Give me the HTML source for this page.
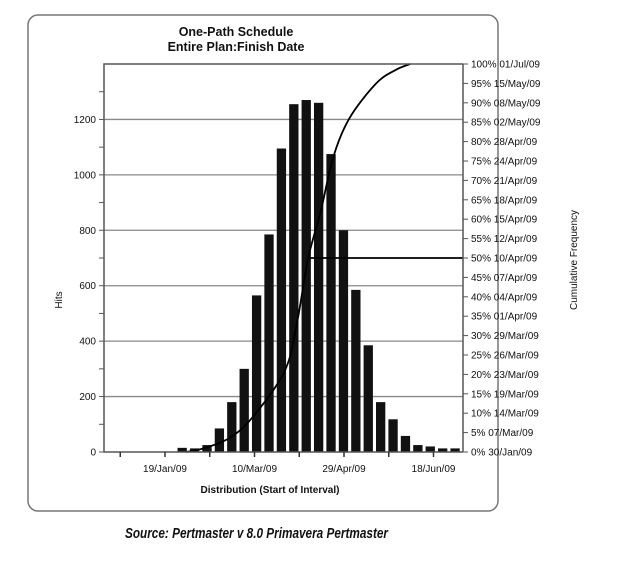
<!DOCTYPE html>
<html><head><meta charset="utf-8"><style>
body{margin:0;background:#fff;width:624px;height:571px;overflow:hidden}
svg text{font-family:"Liberation Sans",sans-serif;fill:#111}
</style></head><body>
<svg width="624" height="571">
<rect x="28" y="15" width="470" height="496" rx="10" fill="#fff" stroke="#777" stroke-width="1.5"/>
<text x="236" y="36" font-size="12.5" font-weight="bold" text-anchor="middle">One-Path Schedule</text>
<text x="236" y="51" font-size="12.5" font-weight="bold" text-anchor="middle">Entire Plan:Finish Date</text>
<g id="grid"></g><g id="bars"></g><g id="axes"></g>
<text x="270" y="493" font-size="10" font-weight="bold" text-anchor="middle">Distribution (Start of Interval)</text>
<text transform="translate(62,300) rotate(-90)" font-size="10" text-anchor="middle">Hits</text>
<text transform="translate(577,260) rotate(-90)" font-size="10" text-anchor="middle">Cumulative Frequency</text>
<text x="125" y="538" font-size="15" font-weight="bold" font-style="italic" textLength="263" lengthAdjust="spacingAndGlyphs">Source: Pertmaster v 8.0 Primavera Pertmaster</text>
</svg>
<script>
const hits=[15,13,25,85,180,300,565,785,1095,1255,1270,1260,1075,800,585,385,180,118,58,25,20,13,13];
const binStartDay=25, binDays=6.93;
const curveDays=[30,40,54,67,85,92,98,105,112,121,136,147,155];
const curvePct=[0,1,3.6,9,21,34,50,62,76,86,95,98.5,100];
const yTicks=[0,100,200,300,400,500,600,700,800,900,1000,1100,1200,1300];
const xTickDays=[-7,18,43,68,93,118,143,168];
const xLabels=["","19/Jan/09","","10/Mar/09","","29/Apr/09","","18/Jun/09"];
const rightLabels=["0% 30/Jan/09","5% 07/Mar/09","10% 14/Mar/09","15% 19/Mar/09","20% 23/Mar/09","25% 26/Mar/09","30% 29/Mar/09","35% 01/Apr/09","40% 04/Apr/09","45% 07/Apr/09","50% 10/Apr/09","55% 12/Apr/09","60% 15/Apr/09","65% 18/Apr/09","70% 21/Apr/09","75% 24/Apr/09","80% 28/Apr/09","85% 02/May/09","90% 08/May/09","95% 15/May/09","100% 01/Jul/09"];
const L=104,R=463,T=64,B=452;
const y=v=>B-v*(B-T)/1400;
const x=d=>165+(d-18)*1.79;
const yp=p=>B-p*(B-T)/100;
const NS="http://www.w3.org/2000/svg";
function mk(tag,at,parent,txt){const e=document.createElementNS(NS,tag);for(const k in at)e.setAttribute(k,at[k]);if(txt!=null)e.textContent=txt;document.getElementById(parent).appendChild(e);return e;}
yTicks.forEach(v=>{
  if(v>0&&v%200===0){const g=mk('line',{x1:L,x2:R,y1:y(v),y2:y(v),stroke:'#888','stroke-width':1.3},'grid');
  
  }
  const t=mk('line',{x1:L-5,x2:L,y1:y(v),y2:y(v),stroke:'#555'},'axes');
  
  
  if(v%200===0){const l=mk('text',{x:L-8,y:y(v)+3.5,'font-size':10,'text-anchor':'end'},'axes',v);
  
  }
});
hits.forEach((h,i)=>{
  const d0=binStartDay+i*binDays;
  const b=mk('rect',{x:x(d0),y:y(h),width:x(d0+binDays*0.75)-x(d0),height:B-y(h),fill:'#111'},'bars');
  
  
});
const pts=curveDays.map((c,i)=>[x(c),yp(curvePct[i])]);
let d='M'+pts[0][0].toFixed(1)+','+pts[0][1].toFixed(1);
for(let i=0;i<pts.length-1;i++){
  const p0=pts[Math.max(0,i-1)],p1=pts[i],p2=pts[i+1],p3=pts[Math.min(pts.length-1,i+2)];
  const c1=[p1[0]+(p2[0]-p0[0])/6,p1[1]+(p2[1]-p0[1])/6];
  const c2=[p2[0]-(p3[0]-p1[0])/6,p2[1]-(p3[1]-p1[1])/6];
  d+=`C${c1[0].toFixed(1)},${c1[1].toFixed(1)} ${c2[0].toFixed(1)},${c2[1].toFixed(1)} ${p2[0].toFixed(1)},${p2[1].toFixed(1)}`;
}
const cp=mk('path',{d:d,fill:'none',stroke:'#000','stroke-width':1.8,'stroke-linejoin':'round'},'axes');


const i50=curvePct.indexOf(50);
const ml=mk('line',{x1:x(curveDays[i50]),x2:R,y1:yp(50),y2:yp(50),stroke:'#000','stroke-width':1.8},'axes');


const fr=mk('path',{d:`M${R},${T}H${L}V${B}H${R}`,fill:'none',stroke:'#555','stroke-width':1.5},'axes');


const ra=mk('line',{x1:R,x2:R,y1:T,y2:B,stroke:'#555','stroke-width':1.5},'axes');


rightLabels.forEach((s,i)=>{
  const yy=yp(i*5);
  const t=mk('line',{x1:R,x2:R+5,y1:yy,y2:yy,stroke:'#555'},'axes');
  
  
  const l=mk('text',{x:R+8,y:yy+3.5,'font-size':10},'axes',s);
  
  
});
xTickDays.forEach((dd,i)=>{
  const t=mk('line',{x1:x(dd),x2:x(dd),y1:B,y2:B+5,stroke:'#333','stroke-width':1.5},'axes');
  
  
  if(xLabels[i]){const l=mk('text',{x:x(dd),y:B+20,'font-size':10,'text-anchor':'middle'},'axes',xLabels[i]);
  
  }
});
</script>
</body></html>
